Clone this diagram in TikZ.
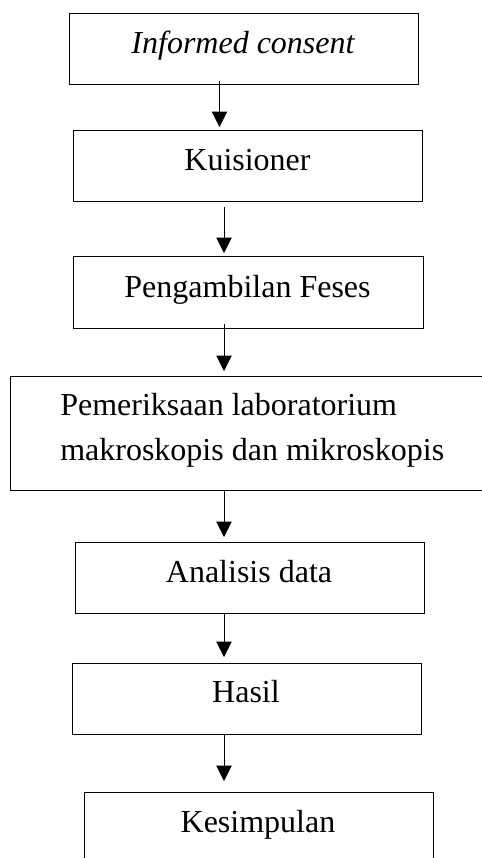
\documentclass[tikz,border=0pt]{standalone}
\usepackage{fontspec}
\setmainfont{Liberation Serif}
\usetikzlibrary{arrows.meta}
\begin{document}
\begin{tikzpicture}[x=0.75pt,y=-0.75pt,
  box/.style={draw, line width=0.75pt, rectangle, inner sep=0pt, outer sep=0pt},
  lbl/.style={font=\fontsize{24}{33.75}\selectfont, inner sep=0pt, anchor=base},
  arr/.style={line width=0.75pt, -{Triangle[width=11.5pt,length=11.5pt]}}]
\useasboundingbox (0,0) rectangle (482,858);
\clip (0,0) rectangle (482,858);
\node[box, minimum width={349*0.75pt}, minimum height={71*0.75pt}] (b1) at (244,48.5) {};
\node[box, minimum width={348.5*0.75pt}, minimum height={71*0.75pt}] (b2) at (247.75,165.5) {};
\node[box, minimum width={349.5*0.75pt}, minimum height={72*0.75pt}] (b3) at (248.25,292) {};
\node[box, minimum width={489.5*0.75pt}, minimum height={114*0.75pt}] (b4) at (255.25,433) {};
\node[box, minimum width={349*0.75pt}, minimum height={71*0.75pt}] (b5) at (249.5,577.5) {};
\node[box, minimum width={348.5*0.75pt}, minimum height={71*0.75pt}] (b6) at (246.75,698.5) {};
\node[box, minimum width={349*0.75pt}, minimum height={78*0.75pt}] (b7) at (258.5,831) {};
\node[lbl] (t1) at (243,53) {\itshape Informed consent};
\node[lbl] (t2) at (247.5,170) {Kuisioner};
\node[lbl] (t3) at (247.5,297) {Pengambilan Feses};
\node[lbl, anchor=base west] (t4a) at (60,415) {Pemeriksaan laboratorium};
\node[lbl, anchor=base west] (t4b) at (60,460) {makroskopis dan mikroskopis};
\node[lbl] (t5) at (249,582) {Analisis data};
\node[lbl] (t6) at (246,702) {Hasil};
\node[lbl] (t7) at (258,832) {Kesimpulan};
\coordinate (a1) at (219.5,0);
\coordinate (a2) at (224,0);
\draw[arr, shorten <=-2.25pt, shorten >=2.25pt] (b1.south -| a1) -- (b2.north -| a1);
\draw[arr, shorten <=4.5pt, shorten >=2.25pt] (b2.south -| a2) -- (b3.north -| a2);
\draw[arr, shorten <=-3pt, shorten >=3.75pt] (b3.south -| a2) -- (b4.north -| a2);
\draw[arr, shorten >=3.75pt] (b4.south -| a2) -- (b5.north -| a2);
\draw[arr, shorten >=4.5pt] (b5.south -| a2) -- (b6.north -| a2);
\draw[arr, shorten >=8.25pt] (b6.south -| a2) -- (b7.north -| a2);
\end{tikzpicture}
\end{document}
